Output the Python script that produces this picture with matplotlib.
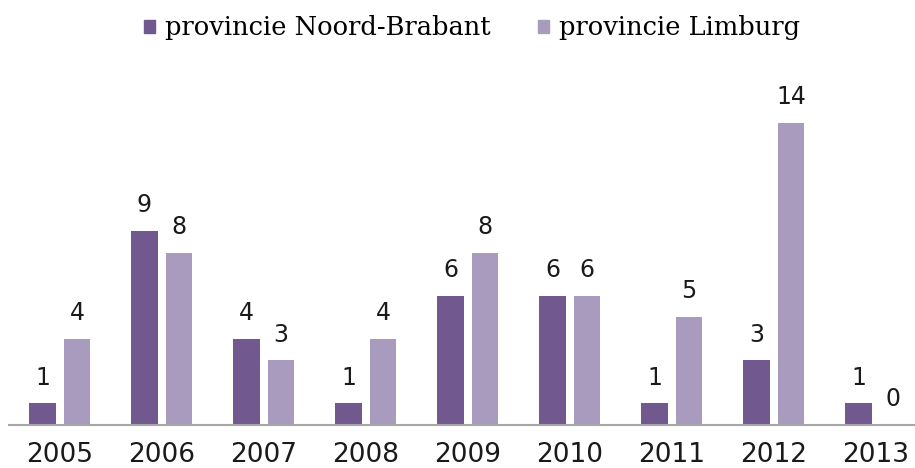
import numpy as np
import matplotlib
matplotlib.use("Agg")
import matplotlib.pyplot as plt
from matplotlib.patches import Patch

# data
years = ["2005", "2006", "2007", "2008", "2009", "2010", "2011", "2012", "2013"]
noord_brabant = [1, 9, 4, 1, 6, 6, 1, 3, 1]
limburg = [4, 8, 3, 4, 8, 6, 5, 14, 0]
series_names = ["provincie Noord-Brabant", "provincie Limburg"]

DARK = "#71588F"
LIGHT = "#A99BBD"

W, H = 915, 468
fig = plt.figure(figsize=(W / 100, H / 100), dpi=100)
ax = fig.add_axes([8.7 / W, 43 / H, (W - 8.7) / W, 345 / H])

x = np.arange(len(years))
bw = 0.26
off = 0.169
b1 = ax.bar(x - off, noord_brabant, bw, color=DARK)
b2 = ax.bar(x + off, limburg, bw, color=LIGHT)

for bars, vals in ((b1, noord_brabant), (b2, limburg)):
    for bar, v in zip(bars, vals):
        ax.annotate(str(v), (bar.get_x() + bar.get_width() / 2, bar.get_height()),
                    xytext=(0, 13.5), textcoords="offset points",
                    ha="center", va="baseline", fontsize=17, color="#1a1a1a",
                    family="DejaVu Sans")

ax.set_xlim(-0.5, (W - 59.7) / 102)
ax.set_ylim(0, 16)
ax.set_xticks(x)
ax.set_xticklabels(years, fontsize=19, family="DejaVu Sans", color="#1a1a1a")
ax.tick_params(axis="x", length=0, pad=12)
ax.set_yticks([])
for side in ("top", "right", "left"):
    ax.spines[side].set_visible(False)
ax.spines["bottom"].set_color("#A6A6A6")
ax.spines["bottom"].set_linewidth(1.5)

handles = [Patch(color=DARK), Patch(color=LIGHT)]
fig.legend(handles, series_names, loc="center", bbox_to_anchor=(472 / W, 1 - 28 / H),
           ncol=2, frameon=False, handlelength=0.43, handleheight=0.43,
           handletextpad=0.4, columnspacing=1.85, borderpad=0, borderaxespad=0,
           prop={"family": "DejaVu Serif", "size": 18.5})

fig.savefig("out.png", dpi=100)
